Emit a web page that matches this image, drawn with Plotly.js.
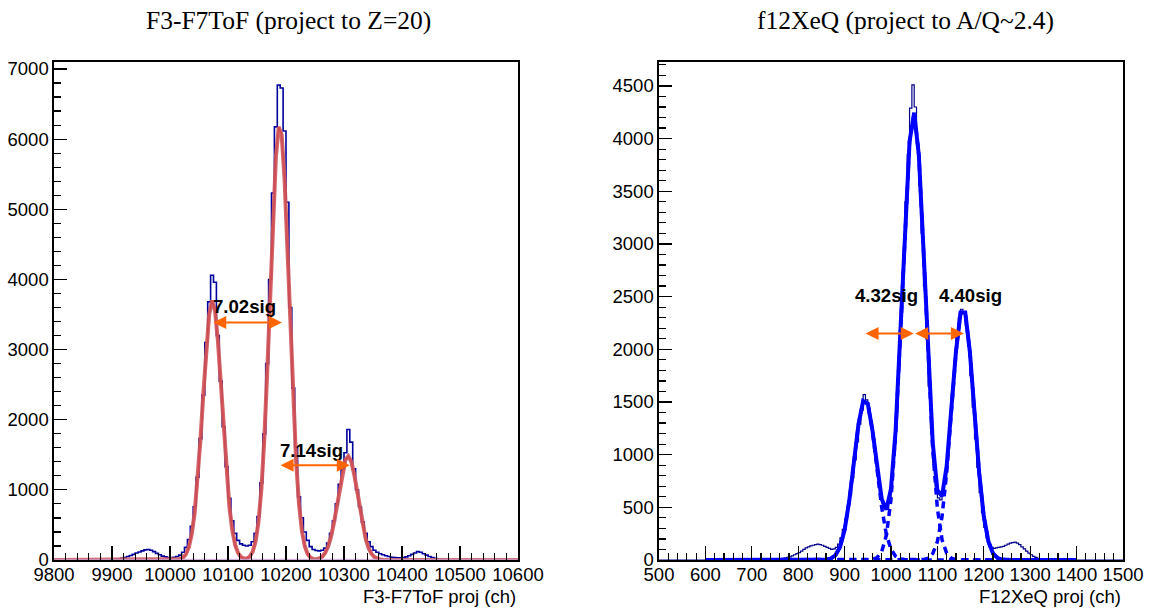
<!DOCTYPE html>
<html>
<head>
<meta charset="utf-8">
<script src="https://cdn.plot.ly/plotly-3.0.1.min.js"></script>
<style>html,body{margin:0;padding:0;background:#fff;}#chart{width:1154px;height:610px;}</style>
</head>
<body>
<div id="chart"></div>
<script>
// ---------------- Left panel: F3-F7ToF ----------------
const leftTitle = "F3-F7ToF (project to Z=20)";
const leftXTitle = "F3-F7ToF proj (ch)";
const leftXRange = [9800, 10600];
const leftYRange = [0, 7104];
const leftHistStart = 9900;   // first bin lower edge
const leftHistWidth = 5;      // channels per bin
const leftHistCounts = [
  5,10,15,25,35,50,65,80,100,115,130,145,150,140,120,95,75,55,45,35,
  35,40,50,70,110,180,290,480,760,1180,1730,2350,3100,3680,4060,3960,3200,2550,1900,1330,
  880,560,380,280,230,210,200,210,260,380,620,1100,1800,2800,4000,5230,6175,6770,6730,6116,
  5100,3600,2450,1600,900,600,400,280,190,150,135,130,140,170,240,380,560,800,1080,1300,
  1530,1860,1680,1300,1000,760,540,380,260,190,140,110,90,75,60,50,40,35,30,30,
  35,45,60,80,100,120,110,90,70,50,35,25,15,10,5,0
];
const leftFitStart = 10002.5;
const leftFitStep = 5;
const leftFitValues = [
  0,1,5,14,34,83,183,367,671,1122,1712,2380,3024,3500,3700,3563,3135,2515,1841,1230,
  749,417,211,98,41,22,23,48,117,263,538,1004,1708,2656,3762,4863,5736,6175,6062,5431,
  4439,3309,2250,1397,791,409,192,82,33,14,12,22,48,99,189,328,524,767,1029,1266,
  1430,1480,1404,1223,976,715,481,296,167,87,41,18,7,3,1
];
const leftSigLabels = ["7.02sig", "7.14sig"];
const leftSigX = [10129, 10244];
const leftSigY = [3607, 1568];
const leftArrowFrom = [10072, 10188];
const leftArrowTo = [10193, 10310];
const leftArrowY = [3385, 1351];

// ---------------- Right panel: f12XeQ ----------------
const rightTitle = "f12XeQ (project to A/Q~2.4)";
const rightXTitle = "F12XeQ proj (ch)";
const rightXRange = [500, 1500];
const rightYRange = [0, 4730];
const rightHistStart = 760;
const rightHistWidth = 5;
const rightHistCounts = [
  10,15,20,25,30,40,50,60,70,85,
  100,115,125,135,140,145,150,145,140,130,
  120,110,100,105,120,150,210,290,380,490,
  620,780,950,1120,1290,1420,1570,1520,1440,1320,
  1150,960,790,640,540,490,480,560,760,1050,
  1400,1850,2350,2900,3400,3850,4290,4510,4300,3950,
  3550,3100,2600,2100,1650,1250,920,700,590,570,
  640,780,1000,1270,1580,1870,2120,2300,2380,2350,
  2230,2030,1750,1450,1150,880,640,450,310,210,
  150,120,110,115,120,125,130,140,150,160,
  165,170,160,145,125,105,85,65,50,35,
  25,15,10,5
];
const rightFitRange = [600, 1400];
const rightFitStart = 840;
const rightFitStep = 10;
const rightFitTotal = [
  0,1,3,13,44,122,285,561,928,1291,1509,1484,1231,874,578,478,676,1232,2119,3148,
  3973,4246,3843,2948,1926,1109,661,606,893,1413,1978,2350,2349,1974,1395,829,414,174,61,18,
  4,1,0
];
const rightFitPeak1 = [
  0,1,3,13,44,122,285,561,928,1291,1509,1483,1225,851,497,244,101,35,10,2,
  0,0,0,0,0,0,0,0,0,0,0,0,0,0,0,0,0,0,0,0,
  0,0,0
];
const rightFitPeak2 = [
  0,0,0,0,0,0,0,0,0,0,0,1,6,23,81,234,575,1197,2109,3146,
  3973,4246,3842,2944,1908,1048,487,192,64,18,4,1,0,0,0,0,0,0,0,0,
  0,0,0
];
const rightFitPeak3 = [
  0,0,0,0,0,0,0,0,0,0,0,0,0,0,0,0,0,0,0,0,
  0,0,1,4,18,61,174,414,829,1395,1974,2349,2349,1974,1395,829,414,174,61,18,
  4,1,0
];
const rightSigLabels = ["4.32sig", "4.40sig"];
const rightSigX = [990, 1171];
const rightSigY = [2514, 2514];
const rightArrowFrom = [942, 1049];
const rightArrowTo = [1049, 1157];
const rightArrowY = [2150, 2150];

// ---------------- helpers ----------------
function histSteps(start, width, counts, lo, hi) {
  const xs = [lo], ys = [0];
  for (let i = 0; i < counts.length; i++) { xs.push(start + i * width); ys.push(counts[i]); }
  xs.push(start + counts.length * width); ys.push(0);
  xs.push(hi); ys.push(0);
  return {x: xs, y: ys};
}
function curve(start, step, vals, lo, hi) {
  const xs = [lo], ys = [0];
  for (let i = 0; i < vals.length; i++) { xs.push(start + i * step); ys.push(vals[i]); }
  xs.push(hi); ys.push(0);
  return {x: xs, y: ys};
}

const lh = histSteps(leftHistStart, leftHistWidth, leftHistCounts, leftXRange[0], leftXRange[1]);
const lf = curve(leftFitStart, leftFitStep, leftFitValues, leftXRange[0], leftXRange[1]);
const rh = histSteps(rightHistStart, rightHistWidth, rightHistCounts, rightXRange[0], rightXRange[1]);
const rfT = curve(rightFitStart, rightFitStep, rightFitTotal, rightFitRange[0], rightFitRange[1]);
const rf1 = curve(rightFitStart, rightFitStep, rightFitPeak1, rightFitRange[0], rightFitRange[1]);
const rf2 = curve(rightFitStart, rightFitStep, rightFitPeak2, rightFitRange[0], rightFitRange[1]);
const rf3 = curve(rightFitStart, rightFitStep, rightFitPeak3, rightFitRange[0], rightFitRange[1]);

const traces = [
  {x: lh.x, y: lh.y, type: 'scatter', mode: 'lines', line: {shape: 'hv', color: '#00009c', width: 1.6}, xaxis: 'x', yaxis: 'y', hoverinfo: 'skip'},
  {x: lf.x, y: lf.y, type: 'scatter', mode: 'lines', line: {color: '#ff0000', width: 1.5}, xaxis: 'x', yaxis: 'y', hoverinfo: 'skip'},
  {x: lf.x, y: lf.y, type: 'scatter', mode: 'lines', line: {color: 'rgba(205,85,90,0.9)', width: 4}, xaxis: 'x', yaxis: 'y', hoverinfo: 'skip'},
  {x: leftXRange, y: [0, 0], type: 'scatter', mode: 'lines', line: {color: 'rgba(200,160,210,0.8)', width: 2.5}, xaxis: 'x', yaxis: 'y', hoverinfo: 'skip'},

  {x: rh.x, y: rh.y, type: 'scatter', mode: 'lines', line: {shape: 'hv', color: '#00008b', width: 1.2}, xaxis: 'x2', yaxis: 'y2', hoverinfo: 'skip'},
  {x: rf1.x, y: rf1.y, type: 'scatter', mode: 'lines', line: {color: '#0000ff', width: 3.5, dash: '7px,5px'}, xaxis: 'x2', yaxis: 'y2', hoverinfo: 'skip'},
  {x: rf2.x, y: rf2.y, type: 'scatter', mode: 'lines', line: {color: '#0000ff', width: 3.5, dash: '7px,5px'}, xaxis: 'x2', yaxis: 'y2', hoverinfo: 'skip'},
  {x: rf3.x, y: rf3.y, type: 'scatter', mode: 'lines', line: {color: '#0000ff', width: 3.5, dash: '7px,5px'}, xaxis: 'x2', yaxis: 'y2', hoverinfo: 'skip'},
  {x: rfT.x, y: rfT.y, type: 'scatter', mode: 'lines', line: {color: '#0000ff', width: 4}, xaxis: 'x2', yaxis: 'y2', hoverinfo: 'skip'}
];

const W = 1154, H = 610;
const tickFont = {family: 'Liberation Sans, Arial, sans-serif', size: 18.5, color: '#000'};
function xAx(domain, range, anchor) {
  return {domain: domain, range: range, anchor: anchor, tick0: range[0], dtick: 100, tickmode: 'linear',
    ticks: 'inside', ticklen: 14, tickwidth: 1.2, tickcolor: '#000', ticklabelstandoff: -3,
    minor: {dtick: 20, ticks: 'inside', ticklen: 7, tickwidth: 1.2, tickcolor: '#000', showgrid: false},
    showline: true, linecolor: '#000', linewidth: 1.6, mirror: true,
    showgrid: false, zeroline: false, tickformat: 'd', tickfont: tickFont, fixedrange: true};
}
function yAx(domain, range, anchor, dtick, minorDtick) {
  return {domain: domain, range: range, anchor: anchor, tick0: 0, dtick: dtick, tickmode: 'linear',
    ticks: 'inside', ticklen: 13, tickwidth: 1.2, tickcolor: '#000',
    minor: {dtick: minorDtick, ticks: 'inside', ticklen: 6.5, tickwidth: 1.2, tickcolor: '#000', showgrid: false},
    showline: true, linecolor: '#000', linewidth: 1.6, mirror: true,
    showgrid: false, zeroline: false, tickformat: 'd', tickfont: tickFont, fixedrange: true};
}
const yDom = [(H - 560) / H, (H - 61.7) / H];

const annotations = [];
annotations.push({text: leftTitle, xref: 'paper', yref: 'paper', x: 288 / W, y: 1 - 20 / H, xanchor: 'center', yanchor: 'middle', showarrow: false,
  font: {family: 'Liberation Serif, Times New Roman, serif', size: 25.5, color: '#000'}});
annotations.push({text: rightTitle, xref: 'paper', yref: 'paper', x: 905 / W, y: 1 - 20 / H, xanchor: 'center', yanchor: 'middle', showarrow: false,
  font: {family: 'Liberation Serif, Times New Roman, serif', size: 25.5, color: '#000'}});
annotations.push({text: leftXTitle, xref: 'paper', yref: 'paper', x: 518 / W, y: (H - 596) / H, xanchor: 'right', yanchor: 'middle', showarrow: false, font: tickFont});
annotations.push({text: rightXTitle, xref: 'paper', yref: 'paper', x: 1123 / W, y: (H - 596) / H, xanchor: 'right', yanchor: 'middle', showarrow: false, font: tickFont});

const sigFont = {family: 'Liberation Sans, Arial, sans-serif', size: 18.6, color: '#000', weight: 'bold'};
function addSig(labels, xs, ys, xr, yr) {
  for (let i = 0; i < labels.length; i++) {
    annotations.push({text: '<b>' + labels[i] + '</b>', x: xs[i], y: ys[i], xref: xr, yref: yr, xanchor: 'center', yanchor: 'middle', showarrow: false, font: sigFont});
  }
}
function addArrows(from, to, ys, xr, yr) {
  for (let i = 0; i < from.length; i++) {
    annotations.push({text: '', x: to[i], y: ys[i], ax: from[i], ay: ys[i], xref: xr, yref: yr, axref: xr, ayref: yr,
      showarrow: true, arrowside: 'end+start', arrowhead: 2, startarrowhead: 2, arrowsize: 1.3, startarrowsize: 1.3,
      arrowwidth: 2, arrowcolor: '#ff6600', standoff: 0, startstandoff: 0});
  }
}
addSig(leftSigLabels, leftSigX, leftSigY, 'x', 'y');
addSig(rightSigLabels, rightSigX, rightSigY, 'x2', 'y2');
addArrows(leftArrowFrom, leftArrowTo, leftArrowY, 'x', 'y');
addArrows(rightArrowFrom, rightArrowTo, rightArrowY, 'x2', 'y2');

const layout = {
  width: W, height: H,
  margin: {l: 0, r: 0, t: 0, b: 0, pad: 0},
  paper_bgcolor: '#fff', plot_bgcolor: '#fff',
  showlegend: false,
  xaxis: xAx([54 / W, 518 / W], leftXRange, 'y'),
  yaxis: yAx(yDom, leftYRange, 'x', 1000, 200),
  xaxis2: xAx([659 / W, 1123 / W], rightXRange, 'y2'),
  yaxis2: yAx(yDom, rightYRange, 'x2', 500, 100),
  annotations: annotations
};

Plotly.newPlot('chart', traces, layout, {staticPlot: true, displayModeBar: false});
</script>
</body>
</html>
